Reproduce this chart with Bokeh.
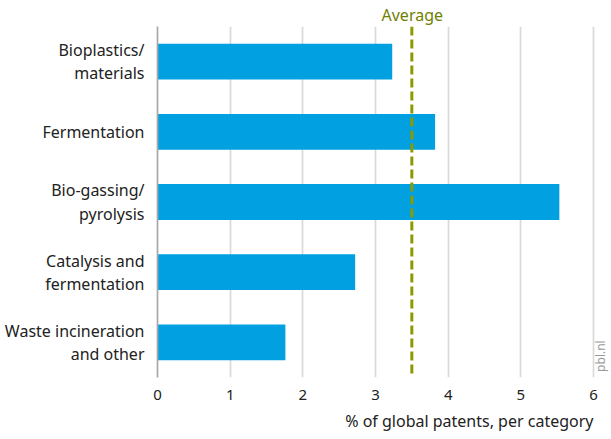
import math
from bokeh.plotting import figure
from bokeh.models import FixedTicker, Span, Label, Title
from bokeh.embed import file_html
from bokeh.resources import INLINE

categories = ["Bioplastics/\nmaterials", "Fermentation", "Bio-gassing/\npyrolysis",
              "Catalysis and\nfermentation", "Waste incineration\nand other"]
values = [3.23, 3.82, 5.53, 2.72, 1.76]
average = 3.5
x_ticks = [0, 1, 2, 3, 4, 5, 6]

n = len(categories)
ypos = [n - i for i in range(n)]

W, H = 611, 439
left, top, bottom = 157, 25, 62
frame_w = W - left
px_per_unit = (593 - 157) / 6.0
x_end = frame_w / px_per_unit

p = figure(width=W, height=H, output_backend="svg", toolbar_location=None,
           x_range=(0, x_end), y_range=(0.5, n + 0.5),
           min_border_left=left, min_border_right=0, min_border_top=top,
           min_border_bottom=bottom)
p.outline_line_color = None
p.background_fill_color = "white"

p.hbar(y=ypos, right=values, left=0, height=0.51, color="#00a0e1", line_color=None)

p.add_layout(Span(location=average, dimension="height", line_color="#8c9a00",
                  line_width=3, line_dash="9 4"))

avg_title = Title(text="Average", align="left", offset=224, standoff=2,
                  text_font="Noto Sans", text_font_size="16px", text_font_style="normal",
                  text_color="#6f7f00")
p.add_layout(avg_title, "above")

# x axis
p.xaxis.ticker = FixedTicker(ticks=x_ticks)
p.xaxis.axis_line_color = None
p.xaxis.major_tick_line_color = None
p.xaxis.minor_tick_line_color = None
p.xaxis.major_label_text_font = "Noto Sans"
p.xaxis.major_label_text_font_size = "15px"
p.xaxis.major_label_text_color = "#222222"
p.xaxis.major_label_standoff = 6

t = Title(text="% of global patents, per category", align="right", offset=18,
          text_font="Noto Sans", text_font_size="16px", text_font_style="normal",
          text_color="#222222", standoff=10)
p.add_layout(t, "below")

# y axis
p.yaxis.ticker = FixedTicker(ticks=ypos)
p.yaxis.major_label_overrides = {yv: c for yv, c in zip(ypos, categories)}
p.yaxis.axis_line_color = "#a8a8a8"
p.yaxis.axis_line_width = 1.7
p.yaxis.major_tick_line_color = None
p.yaxis.minor_tick_line_color = None
p.yaxis.major_label_text_font = "Noto Sans"
p.yaxis.major_label_text_font_size = "16px"
p.yaxis.major_label_text_color = "#222222"
p.yaxis.major_label_text_line_height = 1.05
p.yaxis.major_label_standoff = 7

p.xgrid.ticker = FixedTicker(ticks=x_ticks)
p.xgrid.grid_line_color = "#d9d9d9"
p.xgrid.grid_line_width = 1.7
p.ygrid.grid_line_color = None

wm = Label(x=6, y=0.58, x_offset=15, text="pbl.nl", angle=math.pi / 2,
           text_color="#9a9a9a", text_font="Noto Sans", text_font_size="12px",
           text_baseline="bottom", text_align="left")
p.add_layout(wm)

open("out.html", "w").write(file_html(p, INLINE))
